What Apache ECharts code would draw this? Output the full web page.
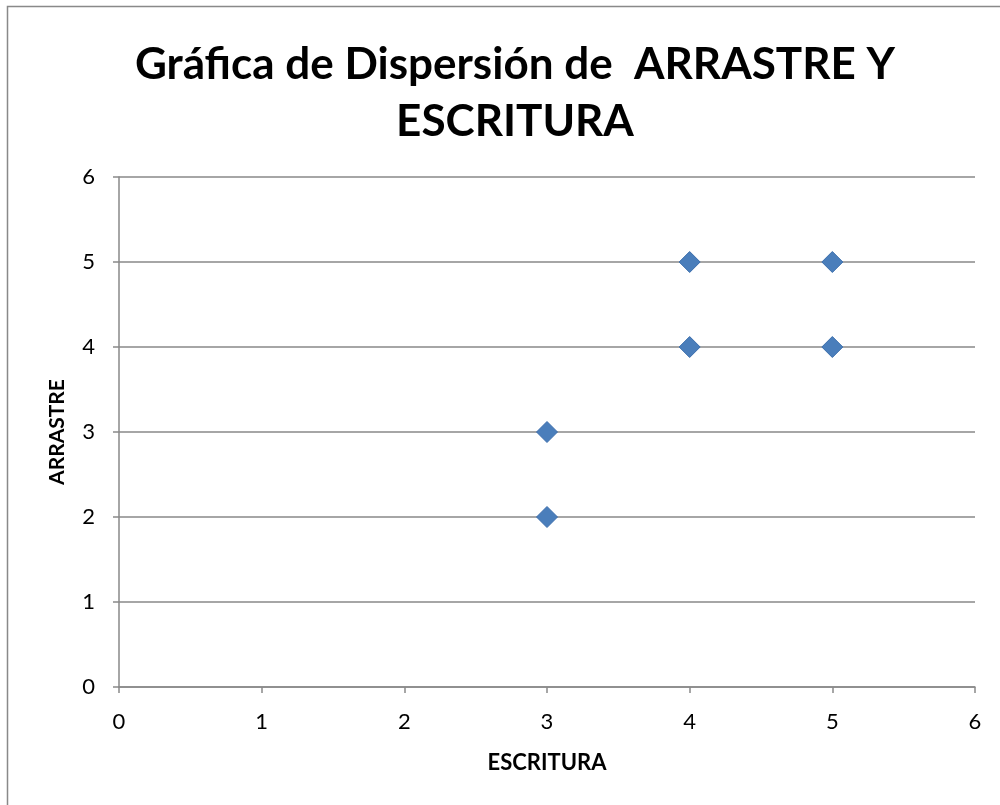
<!DOCTYPE html>
<html><head><meta charset="utf-8">
<script src="https://cdn.jsdelivr.net/npm/echarts@6/dist/echarts.min.js"></script>
<style>html,body{margin:0;padding:0;background:#fff}#c{width:1000px;height:805px}</style>
</head><body><div id="c"></div>
<script>
const escritura = [3, 3, 4, 4, 5, 5];
const arrastre  = [3, 2, 5, 4, 5, 4];
const titleText = 'Gráfica de Dispersión de  ARRASTRE Y\nESCRITURA';
const xName = 'ESCRITURA';
const yName = 'ARRASTRE';

const chart = echarts.init(document.getElementById('c'));
const font = 'Lato, "Open Sans", sans-serif';
chart.setOption({
  backgroundColor: '#fff',
  animation: false,
  title: {
    text: titleText, left: 510, top: 31, textAlign: 'center',
    textStyle: {fontFamily: font, fontWeight: 'bold', fontSize: 44, lineHeight: 57, color: '#000'}
  },
  graphic: [{type: 'rect', shape: {x: 7.5, y: 6.5, width: 1200, height: 1200},
    style: {fill: 'none', stroke: '#898989', lineWidth: 1.5}, z: -1}],
  grid: {left: 119, right: 25, top: 177, bottom: 118},
  xAxis: {
    type: 'value', min: 0, max: 6, interval: 1,
    name: xName, nameLocation: 'middle', nameGap: 65,
    nameTextStyle: {fontFamily: font, fontWeight: 'bold', fontSize: 22, color: '#000'},
    axisLine: {lineStyle: {color: '#898989', width: 1.5}},
    axisTick: {show: true, length: 6, lineStyle: {color: '#898989', width: 1.5}},
    axisLabel: {fontFamily: font, fontSize: 22, color: '#000', margin: 24},
    splitLine: {show: false}
  },
  yAxis: {
    type: 'value', min: 0, max: 6, interval: 1,
    name: yName, nameLocation: 'middle', nameGap: 51, nameRotate: 90,
    nameTextStyle: {fontFamily: font, fontWeight: 'bold', fontSize: 21, color: '#000'},
    axisLine: {show: true, lineStyle: {color: '#898989', width: 1.5}},
    axisTick: {show: true, length: 6, lineStyle: {color: '#898989', width: 1.5}},
    axisLabel: {fontFamily: font, fontSize: 22, color: '#000', margin: 24},
    splitLine: {show: true, lineStyle: {color: '#898989', width: 1.5}}
  },
  series: [{
    type: 'scatter', symbol: 'diamond', symbolSize: [21, 21],
    data: escritura.map((x, i) => [x, arrastre[i]]),
    itemStyle: {color: '#4A7EBB', borderColor: '#3D6FAD', borderWidth: 1, opacity: 1}
  }]
});
</script></body></html>
